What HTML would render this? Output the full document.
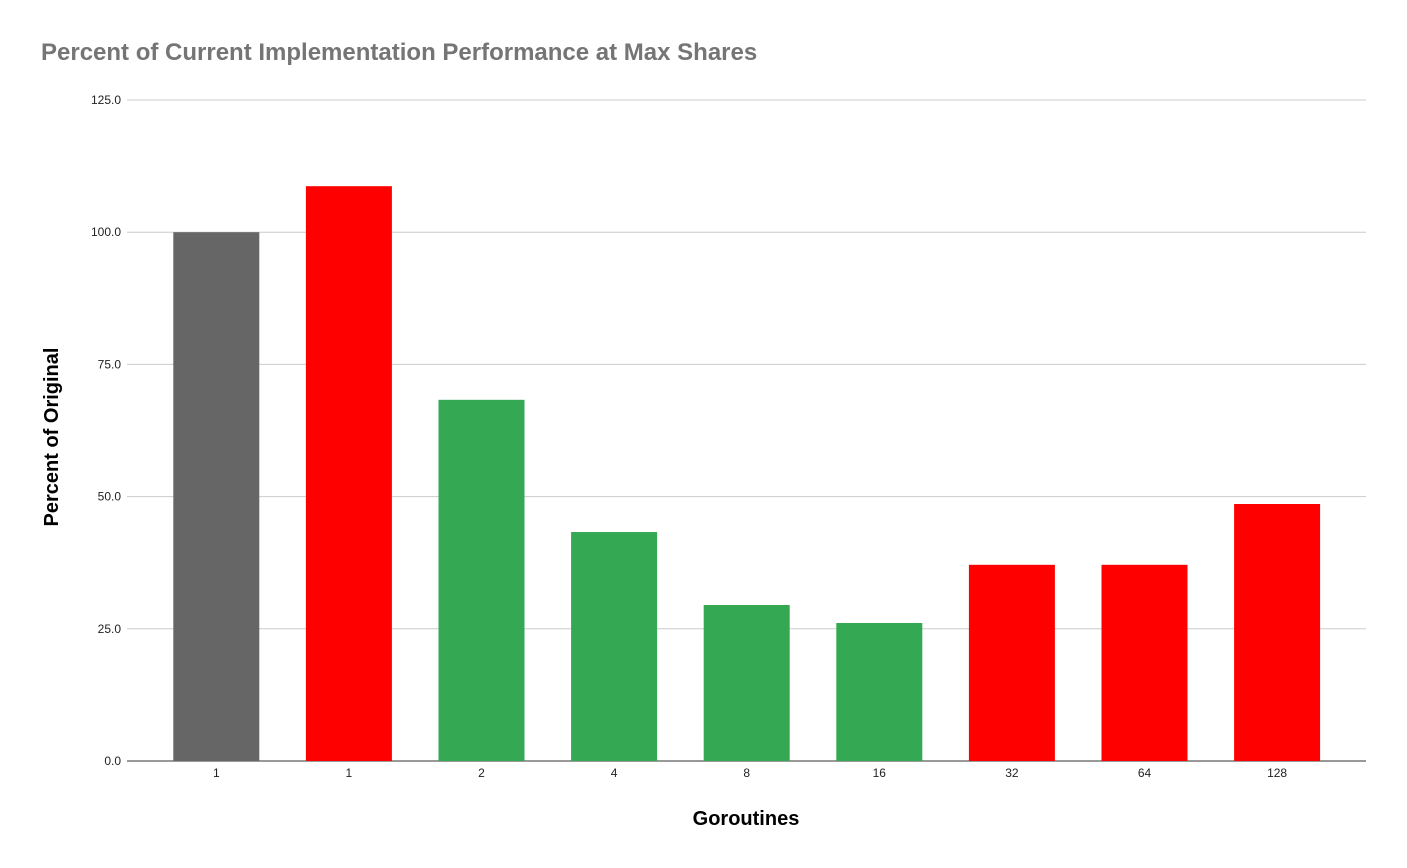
<!DOCTYPE html>
<html><head><meta charset="utf-8"><style>
html,body{margin:0;padding:0;background:#fff;}
svg{display:block;font-family:"Liberation Sans",Arial,sans-serif;}
</style></head><body>
<svg id="chart" width="1407" height="868">
<text x="41" y="60" font-size="24" font-weight="bold" fill="#757575">Percent of Current Implementation Performance at Max Shares</text>
<g id="grid"></g>
<g id="bars"></g>
<g id="xlabels"></g>
<text x="746" y="825" font-size="20" font-weight="bold" text-anchor="middle" fill="#000">Goroutines</text>
<text transform="translate(58,437) rotate(-90)" font-size="20" font-weight="bold" text-anchor="middle" fill="#000">Percent of Original</text>
</svg>
<script>
const categories = ["1","1","2","4","8","16","32","64","128"];
const values = [100, 108.7, 68.3, 43.3, 29.5, 26.1, 37.1, 37.1, 48.6];
const colors = ["#666666","#ff0000","#34a853","#34a853","#34a853","#34a853","#ff0000","#ff0000","#ff0000"];
const yTicks = [0, 25, 50, 75, 100, 125];
const yTickLabels = ["0.0","25.0","50.0","75.0","100.0","125.0"];

const NS = "http://www.w3.org/2000/svg";
const y0 = 761, y1 = 100, yMax = 125;
const xLeft = 150, step = 132.6, barW = 86;
function yScale(v){ return y0 - (v / yMax) * (y0 - y1); }
function xCenter(i){ return xLeft + step * (i + 0.5); }
function mk(tag, attrs){ const e = document.createElementNS(NS, tag); for (const k in attrs) e.setAttribute(k, attrs[k]); return e; }

const grid = document.getElementById("grid");
yTicks.forEach((t, i) => {
  const y = yScale(t);
  const line = mk("line", {x1:127, x2:1366, y1:y, y2:y, stroke: t === 0 ? "#333" : "#ccc", "stroke-width": 1});
  
  
  grid.appendChild(line);
  const lab = mk("text", {x:121, y:y+4, "font-size":12, "text-anchor":"end", fill:"#222"});
  lab.textContent = yTickLabels[i];
  
  
  grid.appendChild(lab);
});

const bars = document.getElementById("bars");
const xl = document.getElementById("xlabels");
values.forEach((v, i) => {
  const cx = xCenter(i);
  const r = mk("rect", {x:cx - barW/2, y:yScale(v), width:barW, height:y0 - yScale(v), fill:colors[i]});
  
  
  bars.appendChild(r);
  const t = mk("text", {x:cx, y:777, "font-size":12, "text-anchor":"middle", fill:"#222"});
  t.textContent = categories[i];
  
  
  xl.appendChild(t);
});
</script>
</body></html>
